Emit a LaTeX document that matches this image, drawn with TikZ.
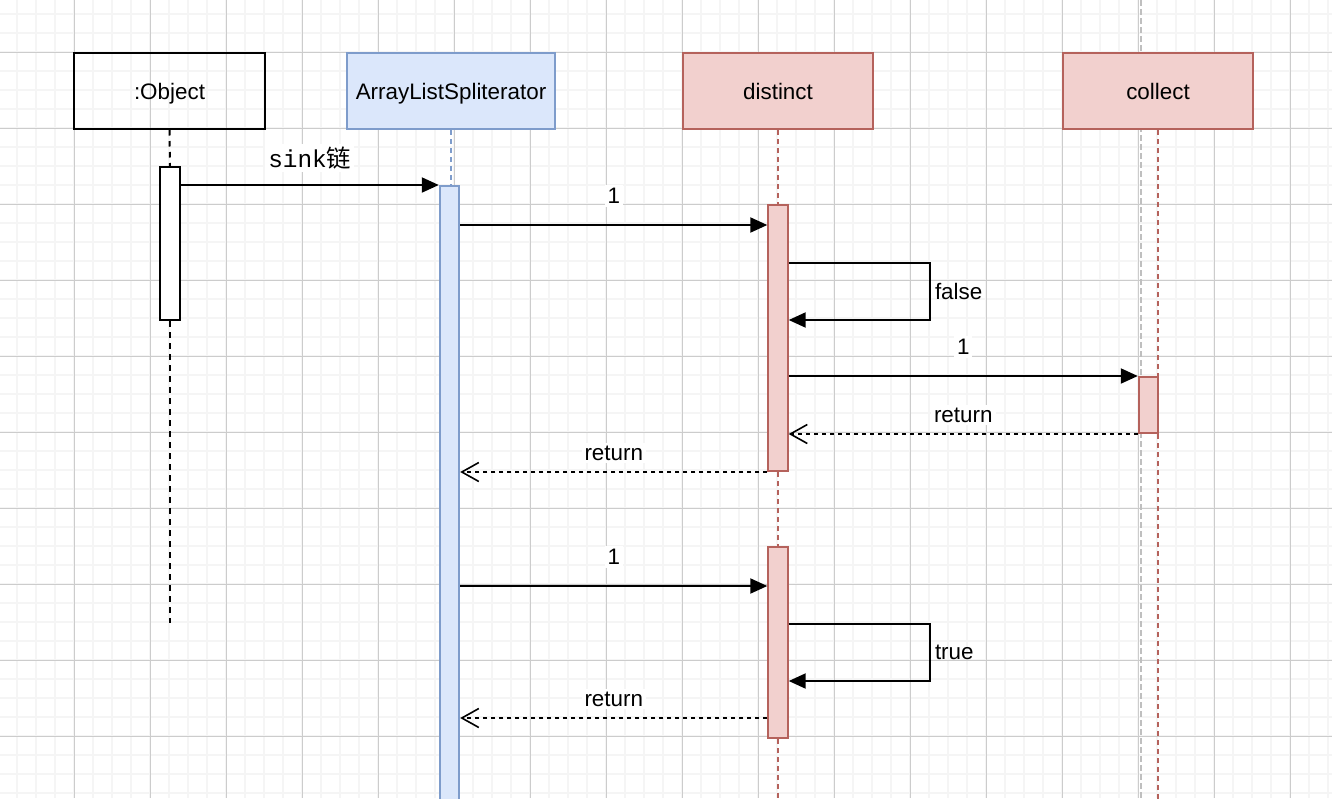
\documentclass[tikz,border=0pt]{standalone}
\usepackage{fontspec}
\setmainfont{Liberation Sans}
\setmonofont{Liberation Mono}
\newfontfamily\cjk{Noto Sans CJK SC}
\usetikzlibrary{arrows.meta}

\definecolor{bluefill}{HTML}{DBE7FB}
\definecolor{blueline}{HTML}{7E9CCB}
\definecolor{redfill}{HTML}{F2D0CE}
\definecolor{redline}{HTML}{B5625C}
\newcommand{\fsz}{\fontsize{11.2}{13.4}\selectfont}

\tikzset{
  minor/.style={line width=1pt,black!4},
  major/.style={line width=0.5pt,black!20},
  head/.style={draw,line width=1pt,minimum height=38pt,inner sep=0pt,text height=8pt,text depth=0pt,font=\fsz},
  act/.style={draw,line width=1pt,minimum width=9.7pt,inner sep=0pt},
  life/.style={line width=1pt,dash pattern=on 2.5pt off 2pt},
  msg/.style={-{Triangle[length=8.5pt,width=7.5pt]},line width=1pt},
  ret/.style={-{Straight Barb[length=8.5pt,width=9.5pt]},line width=0.8pt,dash pattern=on 2pt off 2pt},
  lbl/.style={fill=white,inner sep=1.5pt,font=\fsz},
  side/.style={right,inner sep=2pt,font=\fsz},
}

\begin{document}
\begin{tikzpicture}[x=0.5pt,y=-0.5pt]

  \useasboundingbox (0,0) rectangle (1332,798);
  \clip (0,0) rectangle (1332,798);
  \fill[white] (0,0) rectangle (1332,798);

  \foreach \i in {0,...,70} \draw[minor] ({-1.7+19*\i},0) -- ++(0,798);
  \foreach \i in {0,...,41} \draw[minor] (0,{14.3+19*\i}) -- ++(1332,0);
  \foreach \i in {0,...,18} \draw[major] ({-1.7+76*\i},0) -- ++(0,798);
  \foreach \i in {0,...,10} \draw[major] (0,{-23.7+76*\i}) -- ++(1332,0);
  \draw[line width=1pt,black!25,dash pattern=on 3pt off 1.5pt] (1141,0) -- (1141,798);

  \node[head,minimum width=95.5pt]                          (obj) at (169.5,91)  {:Object};
  \node[head,minimum width=104pt,fill=bluefill,draw=blueline] (als) at (451,91)   {ArrayListSpliterator};
  \node[head,minimum width=95pt,fill=redfill,draw=redline]  (dst) at (778,91)    {distinct};
  \node[head,minimum width=95pt,fill=redfill,draw=redline]  (col) at (1158,91)   {collect};

  \node[act,fill=white,minimum height=76.5pt]                  (objact)  at (170,243.5)  {};
  \node[act,fill=bluefill,draw=blueline,minimum height=315pt]  (alsact)  at (449.5,501) {};
  \node[act,fill=redfill,draw=redline,minimum height=133pt]    (dstact1) at (778,338)    {};
  \node[act,fill=redfill,draw=redline,minimum height=95.5pt]   (dstact2) at (778,642.5)  {};
  \node[act,fill=redfill,draw=redline,minimum height=28pt]     (colact)  at (1148.5,405) {};

  \coordinate (objend) at (170,623);
  \coordinate (dstend) at (778,810);
  \coordinate (colend) at (1158,810);

  \draw[life,dash pattern=on 2.75pt off 2.75pt] (obj.south) -- (objact.north);
  \draw[life,dash pattern=on 2.75pt off 2.75pt] (objact.south) -- (objend);
  \draw[life,blueline] (als.south) -- (als.south |- alsact.north);
  \draw[life,redline] (dst.south) -- (dstact1.north);
  \draw[life,redline] (dstact1.south) -- (dstact2.north);
  \draw[life,redline] (dstact2.south) -- (dstend);
  \draw[life,redline] (col.south) -- (col.south |- colact.north);
  \draw[life,redline] (col.south |- colact.south) -- (colend);

  \node[act,fill=bluefill,draw=blueline,minimum height=315pt] at (alsact) {};
  \node[act,fill=redfill,draw=redline,minimum height=28pt] at (colact) {};

  \draw[msg] (objact.east |- alsact.north) -- node[lbl,yshift=13.5pt] {\ttfamily\fontsize{12.2}{14}\selectfont sink{\cjk 链}} (alsact.north west);

  \draw[msg] (alsact.east |- 0,225) -- node[lbl,yshift=14.5pt] {1} (dstact1.west |- 0,225);
  \draw[msg] (dstact1.east |- 0,263) -- (930,263) -- node[side] {false} (930,320) -- (dstact1.east |- 0,320);
  \draw[msg] (dstact1.east |- colact.north) -- node[lbl,yshift=14.5pt] {1} (colact.north west);
  \draw[ret] (colact.south west) -- node[lbl,yshift=9.5pt] {return} (dstact1.east |- colact.south);
  \draw[ret] (dstact1.south west) -- node[lbl,yshift=9.5pt] {return} (alsact.east |- dstact1.south);

  \draw[msg] (alsact.east |- 0,586) -- node[lbl,yshift=14.5pt] {1} (dstact2.west |- 0,586);
  \draw[msg] (dstact2.east |- 0,624) -- (930,624) -- node[side] {true} (930,681) -- (dstact2.east |- 0,681);
  \draw[ret] (dstact2.west |- 0,718) -- node[lbl,yshift=9.5pt] {return} (alsact.east |- 0,718);

\end{tikzpicture}
\end{document}
